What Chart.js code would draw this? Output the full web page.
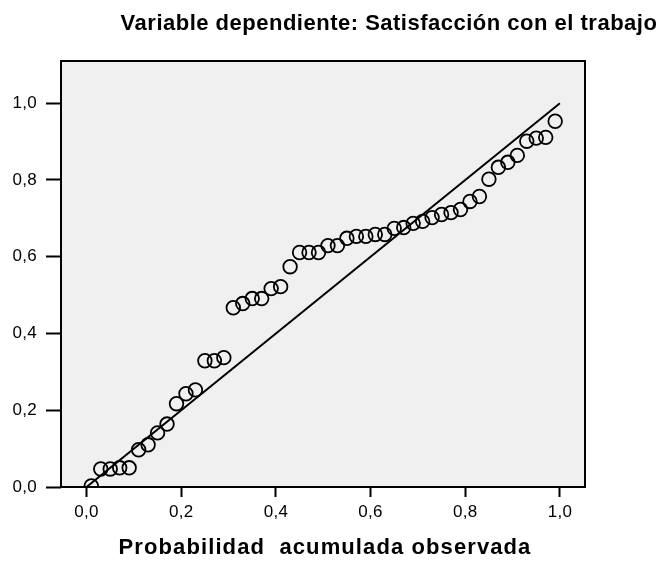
<!DOCTYPE html>
<html>
<head>
<meta charset="utf-8">
<script src="https://cdn.jsdelivr.net/npm/chart.js@4"></script>
<style>
  html, body { margin: 0; padding: 0; background: #fff; }
  #wrap { width: 663px; height: 564px; position: relative; }
</style>
</head>
<body>
<div id="wrap"><canvas id="grafico"></canvas></div>
<script>
// ===== datos =====
const tituloGrafico = 'Variable dependiente: Satisfacción con el trabajo';
const tituloEjeX = 'Probabilidad  acumulada observada';

// probabilidad acumulada observada (eje x)
const probObservada = [
  0.01, 0.03, 0.05, 0.07, 0.09, 0.11, 0.13, 0.15, 0.17, 0.19,
  0.21, 0.23, 0.25, 0.27, 0.29, 0.31, 0.33, 0.35, 0.37, 0.39,
  0.41, 0.43, 0.45, 0.47, 0.49, 0.51, 0.53, 0.55, 0.57, 0.59,
  0.61, 0.63, 0.65, 0.67, 0.69, 0.71, 0.73, 0.75, 0.77, 0.79,
  0.81, 0.83, 0.85, 0.87, 0.89, 0.91, 0.93, 0.95, 0.97, 0.99
];
// probabilidad acumulada esperada (eje y)
const probEsperada = [
  0.003, 0.047, 0.047, 0.050, 0.050, 0.097, 0.110, 0.141, 0.164, 0.217,
  0.243, 0.253, 0.329, 0.329, 0.337, 0.467, 0.478, 0.491, 0.491, 0.517,
  0.522, 0.574, 0.611, 0.611, 0.611, 0.629, 0.629, 0.648, 0.653, 0.653,
  0.658, 0.658, 0.674, 0.676, 0.687, 0.692, 0.702, 0.710, 0.715, 0.723,
  0.744, 0.757, 0.802, 0.833, 0.846, 0.864, 0.901, 0.909, 0.911, 0.953
];
// recta de referencia
const rectaX = [0, 1];
const rectaY = [0, 1];

const ticksX = [0, 0.2, 0.4, 0.6, 0.8, 1.0];
const ticksY = [0, 0.2, 0.4, 0.6, 0.8, 1.0];

const fmt = v => v.toFixed(1).replace('.', ',');
const FUENTE = "'Liberation Sans', Arial, sans-serif";

// ===== plugins =====
const fondoMarco = {
  id: 'fondoMarco',
  beforeDraw(chart) {
    chart.ctx.letterSpacing = '0.3px';
  },
  beforeDatasetsDraw(chart) {
    const { ctx, chartArea: a } = chart;
    ctx.save();
    ctx.fillStyle = '#f0f0f0';
    ctx.fillRect(a.left, a.top, a.right - a.left, a.bottom - a.top);
    ctx.restore();
  },
  afterDatasetsDraw(chart) {
    const { ctx, chartArea: a } = chart;
    ctx.save();
    ctx.strokeStyle = '#000';
    ctx.lineWidth = 2;
    ctx.strokeRect(a.left, a.top, a.right - a.left, a.bottom - a.top);
    ctx.restore();
  },
  afterDraw(chart) {
    const { ctx, chartArea: a } = chart;
    ctx.save();
    ctx.fillStyle = '#000';
    ctx.textAlign = 'center';
    ctx.textBaseline = 'middle';
    ctx.font = 'bold 22px ' + FUENTE;
    ctx.letterSpacing = '0.5px';
    ctx.fillText(tituloGrafico, 389, 24);
    ctx.letterSpacing = '1.1px';
    ctx.fillText(tituloEjeX, (a.left + a.right) / 2 + 2, 548);
    ctx.restore();
  }
};

// ===== Chart.js =====
const ctx = document.getElementById('grafico').getContext('2d');
new Chart(ctx, {
  type: 'scatter',
  data: {
    datasets: [
      {
        label: 'Observada',
        data: probObservada.map((x, i) => ({ x, y: probEsperada[i] })),
        pointStyle: 'circle',
        pointRadius: 6.8,
        pointHoverRadius: 6.8,
        pointBorderWidth: 1.8,
        pointBorderColor: '#000',
        pointBackgroundColor: 'rgba(0,0,0,0)',
        showLine: false,
        order: 1
      },
      {
        type: 'line',
        label: 'Recta',
        data: rectaX.map((x, i) => ({ x, y: rectaY[i] })),
        borderColor: '#000',
        borderWidth: 2,
        pointRadius: 0,
        fill: false,
        order: 2
      }
    ]
  },
  options: {
    responsive: true,
    maintainAspectRatio: false,
    animation: false,
    devicePixelRatio: 1,
    layout: { padding: { top: 61, right: 78, bottom: 0, left: 0 } },
    plugins: {
      legend: { display: false },
      tooltip: { enabled: false },
      title: { display: false }
    },
    scales: {
      x: {
        type: 'linear',
        min: -0.054,
        max: 1.053,
        afterBuildTicks: s => { s.ticks = ticksX.map(v => ({ value: v })); },
        afterFit: s => { s.height = 77; },
        grid: { drawOnChartArea: false, drawTicks: true, tickLength: 10, tickWidth: 2, tickColor: '#000' },
        border: { display: false },
        ticks: { color: '#000', font: { family: FUENTE, size: 17 }, padding: 5, callback: v => fmt(v), maxRotation: 0 }
      },
      y: {
        type: 'linear',
        min: 0,
        max: 1.11,
        afterBuildTicks: s => { s.ticks = ticksY.map(v => ({ value: v })); },
        afterFit: s => { s.width = 61; },
        grid: { drawOnChartArea: false, drawTicks: true, tickLength: 15, tickWidth: 2, tickColor: '#000' },
        border: { display: false },
        ticks: { color: '#000', font: { family: FUENTE, size: 17 }, padding: 9, callback: v => fmt(v) }
      }
    }
  },
  plugins: [fondoMarco]
});
</script>
</body>
</html>
